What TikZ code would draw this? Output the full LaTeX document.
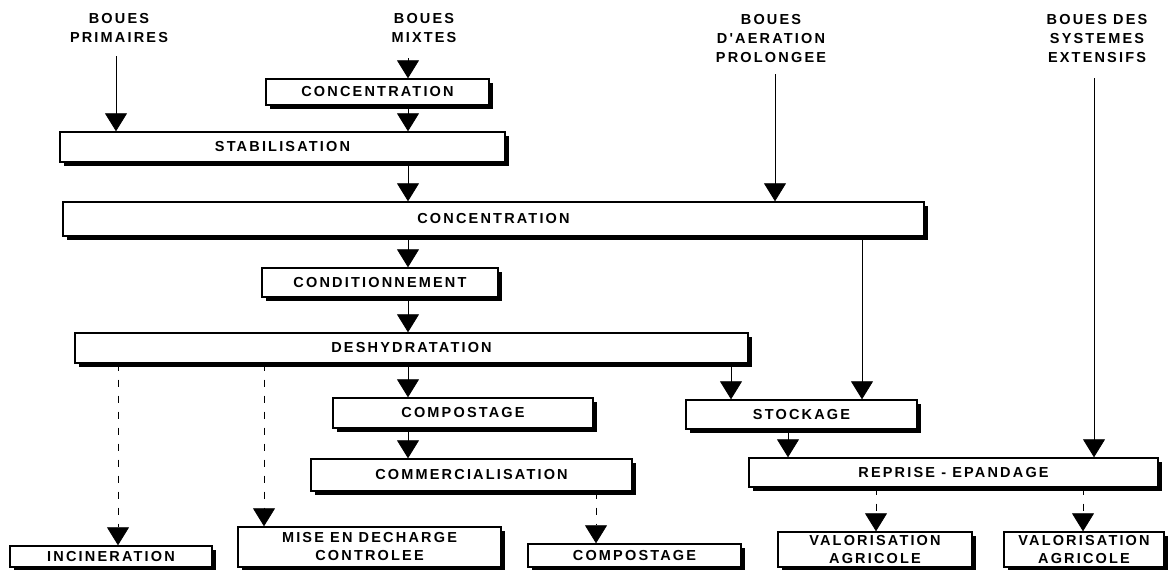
\documentclass[tikz,border=0pt]{standalone}
\usepackage{fontspec}
\setmainfont{Liberation Sans}
\newfontfamily\spaced{Liberation Sans Bold}[LetterSpace=15]
\usetikzlibrary{arrows.meta,shadows}
\newcommand{\etape}{\spaced\fontsize{14.5}{18}\selectfont}

\begin{document}
\begin{tikzpicture}[x=1pt,y=-1pt,
    box/.style={draw, line width=1.4pt, fill=white, inner sep=0pt, align=center, font=\etape,
      drop shadow={shadow xshift=3.5pt, shadow yshift=-3.5pt, fill=black, opacity=1}},
    source/.style={align=center, font=\spaced\fontsize{14.5}{19}\selectfont},
    fleche/.style={-{Triangle[width=22pt,length=18pt]}, line width=0.8pt},
    option/.style={fleche, dash pattern=on 7pt off 9pt, line width=0.7pt}]
    \useasboundingbox (0,0) rectangle (1170,570);

    % origines des boues
    \node[source] (prim) at (119,28) {BOUES\\PRIMAIRES};
    \node[source] (mixt) at (424,28) {BOUES\\MIXTES};
    \node[source] (aer) at (771,39) {BOUES\\D'AERATION\\PROLONGEE};
    \node[source] (ext) at (1097,39) {BOUES DES\\SYSTEMES\\EXTENSIFS};

    % filiere
    \node[box, minimum width=223, minimum height=26] (conc1) at (377.5,92) {CONCENTRATION};
    \node[box, minimum width=445, minimum height=30] (stab) at (282.5,147) {STABILISATION};
    \node[box, minimum width=861, minimum height=34] (conc2) at (493.5,219) {CONCENTRATION};
    \node[box, minimum width=236, minimum height=29] (cond) at (380,282.5) {CONDITIONNEMENT};
    \node[box, minimum width=673, minimum height=30] (deshy) at (411.5,348) {DESHYDRATATION};
    \node[box, minimum width=260, minimum height=30] (compo) at (463,413) {COMPOSTAGE};
    \node[box, minimum width=231, minimum height=29] (stock) at (801.5,414.5) {STOCKAGE};
    \node[box, minimum width=321, minimum height=32] (comm) at (471.5,475) {COMMERCIALISATION};
    \node[box, minimum width=409, minimum height=29] (reprise) at (953.5,472.5) {REPRISE - EPANDAGE};

    % destinations
    \node[box, minimum width=202, minimum height=21] (incin) at (111,556.5) {INCINERATION};
    \node[box, minimum width=263, minimum height=40] (mise) at (369.5,547) {MISE EN DECHARGE\\CONTROLEE};
    \node[box, minimum width=213, minimum height=23] (compo2) at (634.5,555.5) {COMPOSTAGE};
    \node[box, minimum width=194, minimum height=35] (val1) at (875,549.5) {VALORISATION\\AGRICOLE};
    \node[box, minimum width=160, minimum height=35] (val2) at (1084,549.5) {VALORISATION\\AGRICOLE};

    \foreach \n/\x in {spine/408, stk/862, dsh/731, rep/788, inc/118, mise/264, cmp/596, val1/876, val2/1083}
      \coordinate (col-\n) at (\x,0);
    \coordinate (prim-out) at (116,56);
    \coordinate (mixt-out) at (408,58);
    \coordinate (aer-out) at (775,74);
    \coordinate (ext-out) at (1094,78);

    \draw[fleche] (prim-out) -- (prim-out |- stab.north);
    \draw[fleche] (mixt-out) -- (conc1.north -| col-spine);
    \draw[fleche] (aer-out) -- (aer-out |- conc2.north);
    \draw[fleche] (ext-out) -- (ext-out |- reprise.north);

    \draw[fleche] (conc1.south -| col-spine) -- (stab.north -| col-spine);
    \draw[fleche] (stab.south -| col-spine) -- (conc2.north -| col-spine);
    \draw[fleche] (conc2.south -| col-spine) -- (cond.north -| col-spine);
    \draw[fleche] (cond.south -| col-spine) -- (deshy.north -| col-spine);
    \draw[fleche] (deshy.south -| col-spine) -- (compo.north -| col-spine);
    \draw[fleche] (compo.south -| col-spine) -- (comm.north -| col-spine);
    \draw[fleche] (conc2.south -| col-stk) -- (stock.north -| col-stk);
    \draw[fleche] (deshy.south -| col-dsh) -- (stock.north -| col-dsh);
    \draw[fleche] (stock.south -| col-rep) -- (reprise.north -| col-rep);

    % voies optionnelles
    \draw[option] (deshy.south -| col-inc) -- (incin.north -| col-inc);
    \draw[option] (deshy.south -| col-mise) -- (mise.north -| col-mise);
    \draw[option] (comm.south -| col-cmp) -- (compo2.north -| col-cmp);
    \draw[option] (reprise.south -| col-val1) -- (val1.north -| col-val1);
    \draw[option] (reprise.south -| col-val2) -- (val2.north -| col-val2);
\end{tikzpicture}
\end{document}
